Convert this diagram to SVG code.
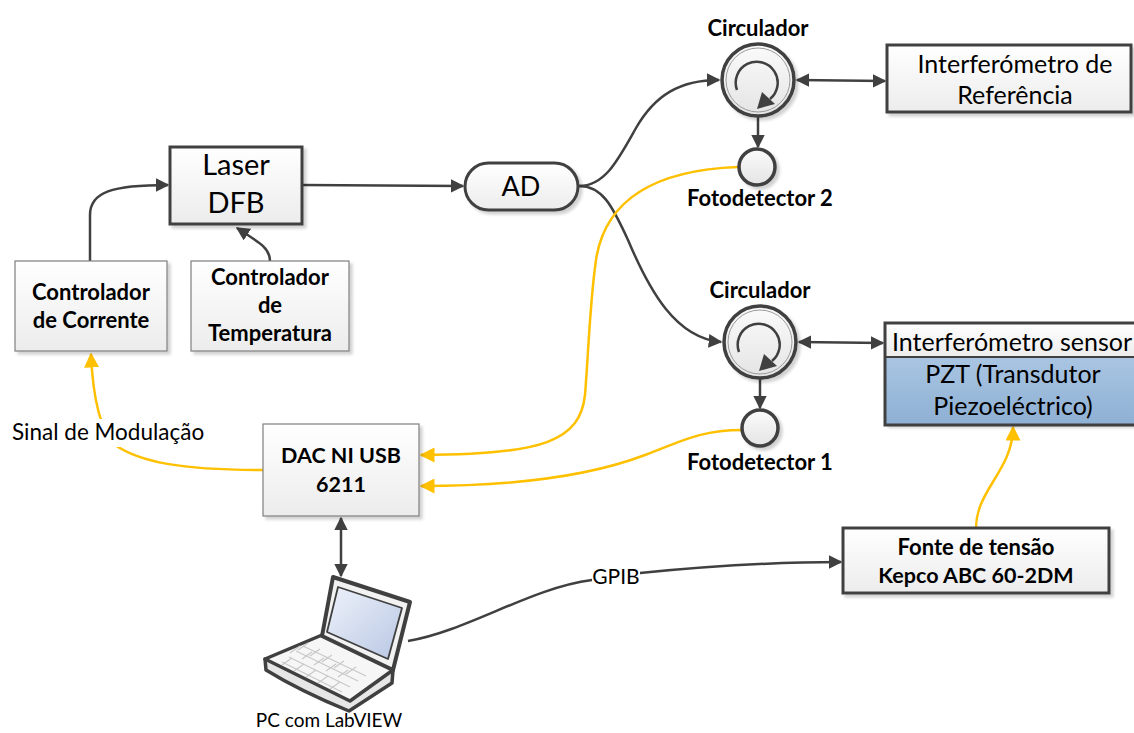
<svg xmlns="http://www.w3.org/2000/svg" width="1134" height="733" viewBox="0 0 1134 733">
  <defs>
    <linearGradient id="boxFill" x1="0" y1="0" x2="0" y2="1">
      <stop offset="0" stop-color="#ffffff"/>
      <stop offset="1" stop-color="#ececec"/>
    </linearGradient>
    <linearGradient id="circFill" x1="0" y1="0" x2="0" y2="1">
      <stop offset="0" stop-color="#fbfbfb"/>
      <stop offset="1" stop-color="#e4e4e4"/>
    </linearGradient>
    <linearGradient id="pztFill" x1="0" y1="0" x2="0" y2="1">
      <stop offset="0" stop-color="#a9c5e2"/>
      <stop offset="1" stop-color="#8eb0d4"/>
    </linearGradient>
    <linearGradient id="screenFill" x1="0" y1="0" x2="1" y2="1">
      <stop offset="0" stop-color="#eef2fa"/>
      <stop offset="1" stop-color="#b9c7e4"/>
    </linearGradient>
    <filter id="shadow" x="-10%" y="-10%" width="130%" height="140%">
      <feDropShadow dx="3" dy="3" stdDeviation="1.5" flood-color="#000" flood-opacity="0.18"/>
    </filter>
    <marker id="arrDark" viewBox="0 0 10 10" refX="9" refY="5" markerWidth="5.5" markerHeight="5.5" orient="auto-start-reverse" markerUnits="strokeWidth">
      <path d="M0,0 L10,5 L0,10 z" fill="#404040"/>
    </marker>
    <marker id="arrYellow" viewBox="0 0 10 10" refX="9" refY="5" markerWidth="6" markerHeight="6" orient="auto-start-reverse" markerUnits="strokeWidth">
      <path d="M0,0 L10,5 L0,10 z" fill="#ffc000"/>
    </marker>
  </defs>
  <style>
    text { font-family: Lato, "Liberation Sans", sans-serif; fill: #000; }
    .c { text-anchor: middle; }
    .b { font-weight: bold; }
    .box { fill: url(#boxFill); stroke: #404040; stroke-width: 3; filter: url(#shadow); }
    .thin { fill: url(#boxFill); stroke: #7f7f7f; stroke-width: 1.2; filter: url(#shadow); }
    .circ { fill: url(#circFill); stroke: #404040; stroke-width: 3.5; filter: url(#shadow); }
    .ring { fill: none; stroke: #9a9a9a; stroke-width: 1; }
    .swirl { fill: none; stroke: #404040; stroke-width: 2.5; }
    .swirlHead { fill: #404040; stroke: none; }
    .lnA { fill: none; stroke: #404040; stroke-width: 2.5; marker-end: url(#arrDark); }
    .lnAA { fill: none; stroke: #404040; stroke-width: 2.5; marker-start: url(#arrDark); marker-end: url(#arrDark); }
    .ylw { fill: none; stroke: #ffc000; stroke-width: 2.5; marker-end: url(#arrYellow); }
  </style>

  <rect width="1134" height="733" fill="#ffffff"/>

  <!-- connectors -->
  <g id="connectors">
    <path class="lnA" d="M90,261 L90,215 C90,192 112,185 168,185"/>
    <path class="lnA" d="M270,261 C270,249 262,244 237,228"/>
    <path class="lnA" d="M302,185 L463,186"/>
    <path class="lnA" d="M579,186 C605,186 618,160 636,128 C655,95 680,80 719,80"/>
    <path class="lnA" d="M579,186 C602,186 612,205 628,240 C650,292 676,338 721,342"/>
    <path class="lnA" d="M758,117 L758,147"/>
    <path class="lnA" d="M760,379 L760,408"/>
    <path class="lnAA" d="M797,80 L885,81"/>
    <path class="lnAA" d="M799,342 L883,343"/>
    <path class="lnAA" d="M341,518 L341,576"/>
    <path class="lnA" d="M408,641 C470,630 530,588 592,580 L640,573 C720,565 780,562 841,562"/>
    <rect x="592" y="566" width="48" height="22" fill="#ffffff"/>
    <text x="616" y="584" class="c" font-size="21">GPIB</text>

    <path class="ylw" d="M263,470 C180,470 140,462 115,445 C100,430 93,400 91,354"/>
    <path class="ylw" d="M738,167 C655,170 605,200 596,260 C590,300 588,360 585,395 C580,440 545,455 421,455"/>
    <path class="ylw" d="M742,430 C700,430 680,442 645,455 C590,476 510,486 421,486"/>
    <path class="ylw" d="M976,528 C976,490 1013,470 1013,427"/>
  </g>

  <!-- Laser DFB -->
  <g id="laser">
    <rect class="box" x="170" y="147" width="132" height="77"/>
    <text x="236" y="175" class="c" font-size="29">Laser</text>
    <text x="236" y="213" class="c" font-size="29">DFB</text>
  </g>

  <!-- Controlador de Corrente -->
  <g id="ctrl-corrente">
    <rect class="thin" x="15" y="261" width="152" height="90"/>
    <text x="91" y="300" class="c b" font-size="22">Controlador</text>
    <text x="91" y="328" class="c b" font-size="22">de Corrente</text>
  </g>

  <!-- Controlador de Temperatura -->
  <g id="ctrl-temperatura">
    <rect class="thin" x="191" y="261" width="158" height="90"/>
    <text x="270" y="285" class="c b" font-size="22">Controlador</text>
    <text x="270" y="313" class="c b" font-size="22">de</text>
    <text x="270" y="341" class="c b" font-size="22">Temperatura</text>
  </g>

  <!-- AD -->
  <g id="ad">
    <rect class="box" x="465" y="163" width="113" height="47" rx="23.5"/>
    <text x="521" y="196" class="c" font-size="27">AD</text>
  </g>

  <!-- Circulador 1 -->
  <g id="circulador-1">
    <text x="758" y="36" class="c b" font-size="22">Circulador</text>
    <circle class="circ" cx="758" cy="80" r="36"/>
    <circle class="ring" cx="758" cy="80" r="32"/>
    <path class="swirl" d="M737,90 A21,21 0 1 1 770,99"/>
    <polygon class="swirlHead" points="757,109 762,92 775,104"/>
  </g>

  <!-- Fotodetector 2 -->
  <g id="fotodetector-2">
    <circle class="circ" cx="757" cy="167" r="18"/>
    <text x="760" y="206" class="c b" font-size="22">Fotodetector 2</text>
  </g>

  <!-- Interferometro de Referencia -->
  <g id="interf-ref">
    <rect class="box" x="887" y="45" width="244" height="67"/>
    <text x="1015" y="73" class="c" font-size="25">Interferómetro de</text>
    <text x="1015" y="104" class="c" font-size="25">Referência</text>
  </g>

  <!-- Circulador 2 -->
  <g id="circulador-2">
    <text x="760" y="298" class="c b" font-size="22">Circulador</text>
    <circle class="circ" cx="760" cy="342" r="36"/>
    <circle class="ring" cx="760" cy="342" r="32"/>
    <path class="swirl" d="M739,352 A21,21 0 1 1 772,361"/>
    <polygon class="swirlHead" points="759,371 764,354 777,366"/>
  </g>

  <!-- Fotodetector 1 -->
  <g id="fotodetector-1">
    <circle class="circ" cx="760" cy="428" r="18"/>
    <text x="760" y="470" class="c b" font-size="22">Fotodetector 1</text>
  </g>

  <!-- Interferometro sensor / PZT -->
  <g id="interf-sensor">
    <rect x="885" y="323" width="254" height="102" fill="#fff" stroke="none" filter="url(#shadow)"/>
    <rect x="885" y="323" width="254" height="34" fill="url(#boxFill)"/>
    <rect x="885" y="357" width="254" height="68" fill="url(#pztFill)"/>
    <rect x="885" y="323" width="254" height="102" fill="none" stroke="#404040" stroke-width="3"/>
    <line x1="885" y1="357" x2="1139" y2="357" stroke="#404040" stroke-width="2"/>
    <text x="892" y="351" font-size="25">Interferómetro sensor</text>
    <text x="1013" y="383" class="c" font-size="25">PZT (Transdutor</text>
    <text x="1013" y="415" class="c" font-size="25">Piezoeléctrico)</text>
  </g>

  <!-- DAC -->
  <g id="dac">
    <rect class="thin" x="263" y="424" width="156" height="92"/>
    <text x="341" y="463" class="c b" font-size="21.5">DAC NI USB</text>
    <text x="341" y="492" class="c b" font-size="21.5">6211</text>
  </g>

  <!-- Sinal de Modulacao label -->
  <g id="sinal-label">
    <rect x="8" y="419" width="202" height="28" fill="#ffffff"/>
    <text x="12" y="440" font-size="22.5">Sinal de Modulação</text>
  </g>

  <!-- Fonte de tensao -->
  <g id="fonte">
    <rect class="box" x="843" y="528" width="266" height="65"/>
    <text x="976" y="555" class="c b" font-size="22">Fonte de tensão</text>
    <text x="976" y="583" class="c b" font-size="21.5">Kepco ABC 60-2DM</text>
  </g>

  <!-- PC with LabVIEW -->
  <g id="pc" stroke-linejoin="round">
    <!-- base front edge -->
    <path d="M265,659 L266,670 Q300,691 349,711 L392,683 L393,670 Z" fill="#e6e6e6" stroke="#404040" stroke-width="3.5"/>
    <!-- base top / keyboard deck -->
    <path d="M322,635 L393,670 L350,701 L265,659 Z" fill="#f6f6f6" stroke="#404040" stroke-width="3.5"/>
    <!-- keys -->
    <g stroke="#c8c8c8" stroke-width="1.2" fill="none">
      <path d="M296,651 L358,681 M289,657 L350,687 M282,662 L342,692 M303,646 L366,676"/>
      <path d="M300,646 L290,653 M312,652 L302,659 M324,658 L314,665 M336,664 L326,671 M348,670 L338,677"/>
      <path d="M292,658 L282,665 M304,664 L294,671 M316,670 L306,677 M328,676 L318,683 M340,682 L330,689"/>
      <path d="M308,643 L298,650 M320,649 L310,656 M332,655 L322,662 M344,661 L334,668 M356,667 L346,674"/>
    </g>
    <!-- lid -->
    <path d="M333,577 L410,602 L393,670 L322,636 Z" fill="#f2f2f2" stroke="#404040" stroke-width="4"/>
    <!-- screen -->
    <path d="M338,587 L402,608 L388,659 L327,632 Z" fill="url(#screenFill)" stroke="#404040" stroke-width="1.8"/>
    <text x="329" y="727" class="c" font-size="19" stroke="none">PC com LabVIEW</text>
  </g>
</svg>
